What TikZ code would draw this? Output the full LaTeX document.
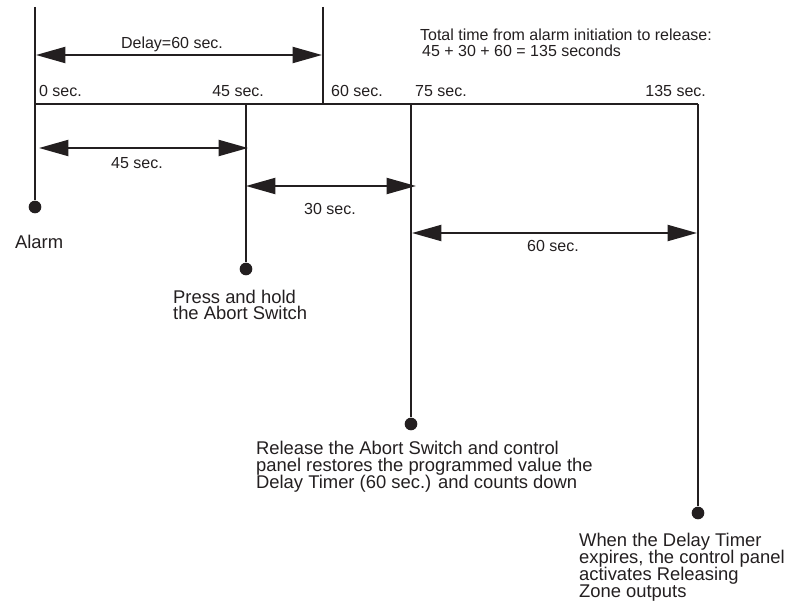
\documentclass[tikz,border=0pt]{standalone}
\usepackage{fontspec}
\setmainfont{Liberation Sans}
\usepackage{tikz}
\usetikzlibrary{arrows.meta, calc}
\definecolor{ink}{HTML}{231F20}

\begin{document}
\begin{tikzpicture}[x=0.75pt, y=-0.75pt, >={Triangle[length=22pt, width=12pt]},
  ink, line width=1.7pt,
  span/.style={<->, line width=1.5pt},
  dot/.style={circle, fill=ink, inner sep=0pt, minimum size=9.5pt},
  tag/.style={font={\fontsize{12pt}{12pt}\selectfont\lineskiplimit-100pt\relax}, inner sep=0pt},
  note/.style={font={\fontsize{13.8pt}{12.6pt}\selectfont\lineskiplimit-100pt\relax}, align=left, inner sep=0pt}]
  \useasboundingbox (0,0) rectangle (786,613);

  % Time axis
  \coordinate (t0) at (35,7);
  \coordinate (t60) at (323,7);
  \coordinate (b0) at (35,104);
  \coordinate (b45) at (246,104);
  \coordinate (b60) at (323,104);
  \coordinate (b75) at (411,104);
  \coordinate (b135) at (698,104);
  \draw (b0) -- (b135);
  \draw (t60) -- (b60);

  \node[tag, anchor=base west] (s0) at (38,97) {0 sec.};
  \node[tag, anchor=base east] (s45) at (265,97) {45 sec.};
  \node[tag, anchor=base west] (s60) at (330,97) {60 sec.};
  \node[tag, anchor=base west] (s75) at (414,97) {75 sec.};
  \node[tag, anchor=base east] (s135) at (707,97) {135 sec.};

  % Events
  \node[dot] (alarm) at (35,207) {};
  \node[dot] (hold) at (246,269) {};
  \node[dot] (release) at (411,424) {};
  \node[dot] (expire) at (698,513) {};
  \draw (t0) -- (alarm);
  \draw (b45) -- (hold);
  \draw (b75) -- (release);
  \draw (b135) -- (expire);

  % Intervals
  \coordinate (p1) at (36,55);   \coordinate (p2) at (322,55);
  \coordinate (q1) at (39,148);  \coordinate (q2) at (248,148);
  \coordinate (r1) at (246,186); \coordinate (r2) at (416,186);
  \coordinate (u1) at (412,233); \coordinate (u2) at (697,233);
  \draw[span] (p1) -- (p2);
  \draw[span] (q1) -- (q2);
  \draw[span] (r1) -- (r2);
  \draw[span] (u1) -- (u2);

  \node[tag, anchor=base] (delay) at (172,49) {Delay=60 sec.};
  \node[tag, anchor=base] (i45) at (137,169) {45 sec.};
  \node[tag, anchor=base] (i30) at (330,215) {30 sec.};
  \node[tag, anchor=base] (i60) at (553,252) {60 sec.};

  % Notes (base = last line)
  \node[tag, align=left, anchor=base west] (total) at (419,57)
    {Total time from alarm initiation to release:\\\hspace*{1.5pt}45 + 30 + 60 = 135 seconds};
  \node[note, anchor=base west] (n0) at (14,248) {Alarm};
  \node[note, anchor=base west] (n45) at (172,320) {Press and hold\\the Abort Switch};
  \node[note, anchor=base west] (n75) at (255,488)
    {Release the Abort Switch and control\\panel restores the programmed value the\\Delay Timer (60 sec.) and counts down};
  \node[note, anchor=base west] (n135) at (578,597)
    {When the Delay Timer\\expires, the control panel\\activates Releasing\\Zone outputs};
\end{tikzpicture}
\end{document}
